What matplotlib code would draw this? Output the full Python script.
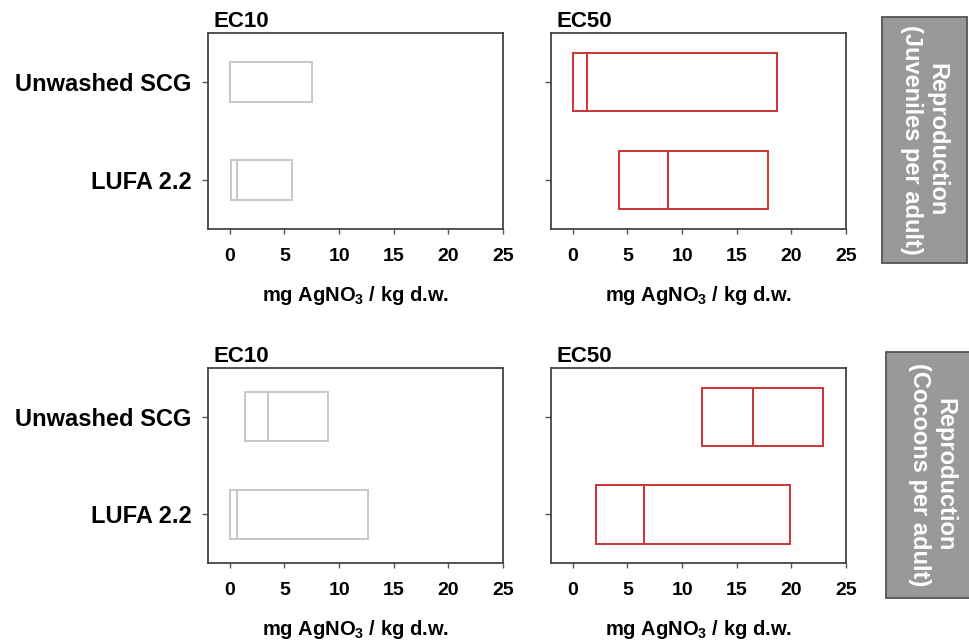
import matplotlib
matplotlib.use("Agg")
import matplotlib.pyplot as plt
from matplotlib.patches import Rectangle

plt.rcParams['font.family'] = ['Liberation Sans', 'DejaVu Sans']
plt.rcParams['font.weight'] = 'bold'
plt.rcParams['mathtext.fontset'] = 'custom'
plt.rcParams['mathtext.rm'] = 'Liberation Sans:bold'
plt.rcParams['mathtext.bf'] = 'Liberation Sans:bold'
plt.rcParams['mathtext.default'] = 'bf'

# ---- data ----
categories = ["LUFA 2.2", "Unwashed SCG"]  # bottom to top
# [lower CI, estimate, upper CI] per category (same order as categories)
juv_ec10_lower = [0.1, 0.0]
juv_ec10_est = [0.7, 0.0]
juv_ec10_upper = [5.7, 7.5]

juv_ec50_lower = [4.25, 0.05]
juv_ec50_est = [8.7, 1.3]
juv_ec50_upper = [17.85, 18.65]

coc_ec10_lower = [0.0, 1.4]
coc_ec10_est = [0.65, 3.5]
coc_ec10_upper = [12.6, 9.0]

coc_ec50_lower = [2.1, 11.85]
coc_ec50_est = [6.5, 16.45]
coc_ec50_upper = [19.9, 22.9]

xticks = [0, 5, 10, 15, 20, 25]
panel_titles = ["EC10", "EC50"]
row_labels = ["Reproduction\n(Juveniles per adult)", "Reproduction\n(Cocoons per adult)"]
xlabel = "mg AgNO$_3$ / kg d.w."

W, H = 970, 644
fig = plt.figure(figsize=(W / 100, H / 100), dpi=100)

def ax_rect(l, r, t, b):
    return [l / W, 1 - b / H, (r - l) / W, (b - t) / H]

panels = [
    (ax_rect(208, 503, 33, 229), juv_ec10_lower, juv_ec10_est, juv_ec10_upper, "#c8c8c8", 0.4, True, panel_titles[0]),
    (ax_rect(551, 846, 33, 229), juv_ec50_lower, juv_ec50_est, juv_ec50_upper, "#cc3333", 0.6, False, panel_titles[1]),
    (ax_rect(208, 503, 368, 563), coc_ec10_lower, coc_ec10_est, coc_ec10_upper, "#c8c8c8", 0.5, True, panel_titles[0]),
    (ax_rect(551, 846, 368, 563), coc_ec50_lower, coc_ec50_est, coc_ec50_upper, "#cc3333", 0.6, False, panel_titles[1]),
]

ypos = list(range(len(categories)))
for rect, lo, est, up, col, hgt, showlab, title in panels:
    ax = fig.add_axes(rect)
    widths = [u - l for l, u in zip(lo, up)]
    ax.barh(ypos, widths, left=lo, height=hgt, facecolor='none',
            edgecolor=col, linewidth=1.4)
    for y, e in zip(ypos, est):
        ax.vlines(e, y - hgt / 2, y + hgt / 2, color=col, linewidth=1.4)
    ax.set_xlim(-2, 25)
    ax.set_ylim(-0.5, 1.5)
    ax.set_xticks(xticks)
    ax.set_xticklabels([str(t) for t in xticks], fontsize=14, fontweight='bold')
    ax.set_yticks(ypos)
    if showlab:
        ax.set_yticklabels(categories, fontsize=17, fontweight='bold')
    else:
        ax.set_yticklabels([])
    ax.tick_params(axis='x', direction='out', length=3.5, width=1, color='#555555', pad=10)
    ax.tick_params(axis='y', direction='out', length=4, width=1, color='#555555', pad=8)
    for s in ax.spines.values():
        s.set_color('#444444')
        s.set_linewidth(1.3)
    ax.set_xlabel(xlabel, fontsize=14.5, fontweight='bold', labelpad=14)
    ax.text(0.017, 1.03, title, transform=ax.transAxes, fontsize=16,
            fontweight='bold', va='baseline', ha='left')

# side labels
for (l, r, t, b), txt in zip([(882, 967, 17, 263), (886, 978, 352, 598)], row_labels):
    fig.add_artist(Rectangle((l / W, 1 - b / H), (r - l) / W, (b - t) / H,
                             transform=fig.transFigure, facecolor='#999999',
                             edgecolor='#555555', linewidth=1.3))
    fig.text((l + r) / 2 / W, 1 - (t + b) / 2 / H, txt, rotation=-90,
             ha='center', va='center', multialignment='center',
             color='white', fontsize=17, fontweight='bold', linespacing=1.15)

fig.savefig("out.png", dpi=100)
